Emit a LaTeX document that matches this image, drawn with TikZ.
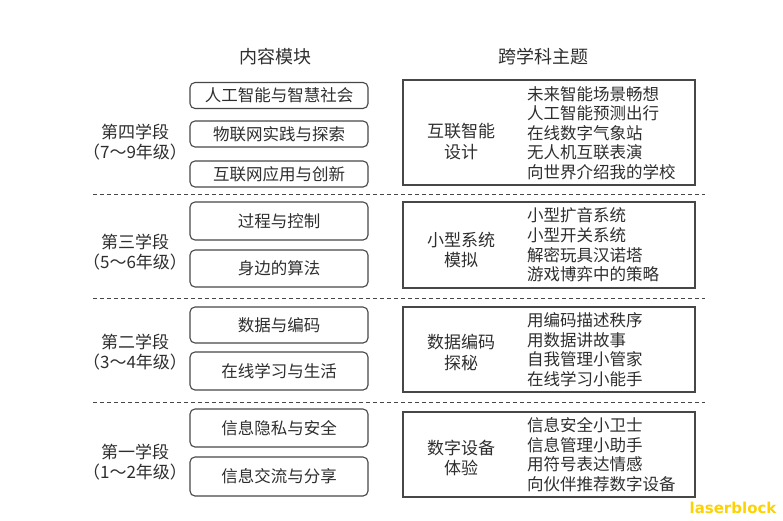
\documentclass[tikz,border=0pt]{standalone}
\usepackage{fontspec}
\setmainfont{Noto Sans CJK SC}
\newfontfamily\markfont{DejaVu Sans}
\usetikzlibrary{positioning}
\colorlet{box edge}{black!72}
\colorlet{box text}{black!82}
\colorlet{mark yellow}{yellow!70!orange}
\tikzset{
  module/.style={draw=box edge, line width=1.1pt, rounded corners=5pt, minimum width=178pt, inner sep=0pt, text=box text, font=\fontsize{16.5}{19.5}\selectfont},
  themebox/.style={draw=box edge, line width=1.1pt, minimum width=292pt, inner sep=0pt},
  stage/.style={align=center, inner sep=0pt, text=box text, font=\fontsize{17}{20}\selectfont},
  themename/.style={align=center, inner sep=0pt, text=box text, font=\fontsize{17}{20.5}\selectfont},
  topics/.style={align=left, anchor=west, inner sep=0pt, text=box text, font=\fontsize{16.5}{19.6}\selectfont},
  heading/.style={inner sep=0pt, text=box text, font=\fontsize{18}{20}\selectfont},
  divider/.style={draw=box edge, line width=1pt, dash pattern=on 4pt off 3pt}
}

\begin{document}
\begin{tikzpicture}[x=1pt, y=-1pt]
    \useasboundingbox (0,0) rectangle (783,520);
    \node[heading] (hmod) at (275,57) {内容模块};
    \node[heading] (htheme) at (543,57) {跨学科主题};
    % stage 4
    \node[stage] (s4) at (135,142) {第四学段\\（7～9年级）};
    \node[module, minimum height=26pt] (m41) at (279,95.5) {人工智能与智慧社会};
    \node[module, minimum height=26pt] (m42) at (279,134) {物联网实践与探索};
    \node[module, minimum height=26pt] (m43) at (279,174) {互联网应用与创新};
    \node[themebox, minimum height=105pt] (t4) at (549,132.5) {};
    \node[themename] (n4) at (461,141.5) {互联智能\\设计};
    \node[topics] (l4) at (527,133) {未来智能场景畅想\\人工智能预测出行\\在线数字气象站\\无人机互联表演\\向世界介绍我的学校};
    % stage 3
    \node[stage] (s3) at (135,252) {第三学段\\（5～6年级）};
    \node[module, minimum height=38pt] (m31) at (279,221) {过程与控制};
    \node[module, minimum height=37pt] (m32) at (279,268.5) {身边的算法};
    \node[themebox, minimum height=86pt] (t3) at (549,245) {};
    \node[themename] (n3) at (461,250) {小型系统\\模拟};
    \node[topics] (l3) at (527,245) {小型扩音系统\\小型开关系统\\解密玩具汉诺塔\\游戏博弈中的策略};
    % stage 2
    \node[stage] (s2) at (135,352.5) {第二学段\\（3～4年级）};
    \node[module, minimum height=36pt] (m21) at (279,325) {数据与编码};
    \node[module, minimum height=38pt] (m22) at (279,371) {在线学习与生活};
    \node[themebox, minimum height=85pt] (t2) at (549,349.5) {};
    \node[themename] (n2) at (461,352.5) {数据编码\\探秘};
    \node[topics] (l2) at (527,349.5) {用编码描述秩序\\用数据讲故事\\自我管理小管家\\在线学习小能手};
    % stage 1
    \node[stage] (s1) at (135,462) {第一学段\\（1～2年级）};
    \node[module, minimum height=38pt] (m11) at (279,428) {信息隐私与安全};
    \node[module, minimum height=39pt] (m12) at (279,476.5) {信息交流与分享};
    \node[themebox, minimum height=85pt] (t1) at (549,454.5) {};
    \node[themename] (n1) at (461,458) {数字设备\\体验};
    \node[topics] (l1) at (527,454.5) {信息安全小卫士\\信息管理小助手\\用符号表达情感\\向伙伴推荐数字设备};
    % dividers
    \coordinate (d1l) at (93,194);  \coordinate (d1r) at (705,194);
    \coordinate (d2l) at (93,298);  \coordinate (d2r) at (705,298);
    \coordinate (d3l) at (93,402);  \coordinate (d3r) at (705,402);
    \draw[divider] (d1l) -- (d1r);
    \draw[divider] (d2l) -- (d2r);
    \draw[divider] (d3l) -- (d3r);
    \node[inner sep=0pt, text=mark yellow, font=\markfont\bfseries\fontsize{15}{15}\selectfont] (wm) at (733,508) {laserblock};
\end{tikzpicture}
\end{document}
